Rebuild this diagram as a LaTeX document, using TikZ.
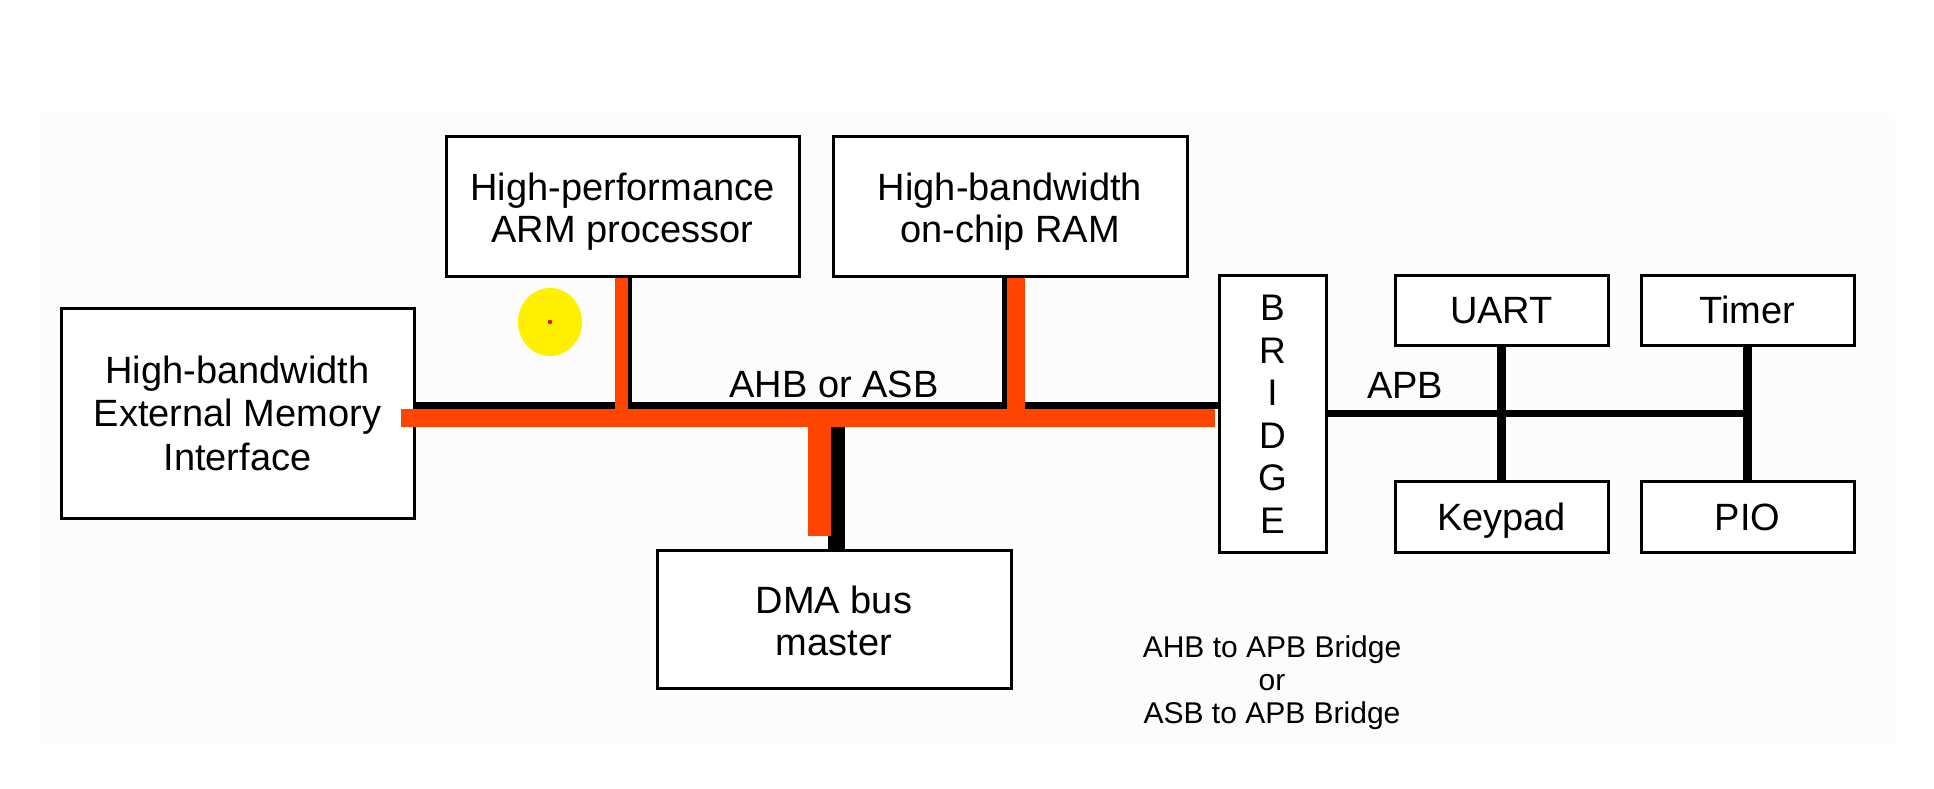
\documentclass[tikz,border=0pt]{standalone}
\usepackage{fontspec}
\setmainfont{Liberation Sans}
\usetikzlibrary{calc}
\definecolor{busorange}{RGB}{255,69,0}
\definecolor{panel}{RGB}{252,252,252}
\definecolor{marker}{RGB}{255,240,0}
\tikzset{
  unit/.style={draw=black, line width=3pt, fill=white, align=center, inner sep=0pt,
    font=\fontsize{38}{43.5}\selectfont},
  oneline/.style={text height=27pt, text depth=0pt},
  twoline/.style={font=\fontsize{38}{42}\selectfont, text height=80pt, text depth=8pt},
  ahbline/.style={draw=black, line cap=butt},
  ahbfat/.style={draw=busorange, line cap=butt},
  apbline/.style={draw=black, line cap=butt},
  buslabel/.style={inner sep=0pt, anchor=base, font=\fontsize{38}{43.5}\selectfont},
  note/.style={inner sep=0pt, align=center, font=\fontsize{30}{33}\selectfont},
}
\begin{document}
\begin{tikzpicture}[x=1pt, y=-1pt]
  \useasboundingbox (0,0) rectangle (1934,789);
  \fill[white] (0,0) rectangle (1934,789);
  \fill[panel] (40,113) rectangle (1895,745);

  % high-speed system bus components
  \node[unit, minimum width=353pt, minimum height=210pt] (emi) at (237.5,413)
    {High-bandwidth\\External Memory\\Interface};
  \node[unit, twoline, minimum width=353pt, minimum height=140pt] (arm) at (622.5,206)
    {High-performance\\ARM processor};
  \node[unit, twoline, minimum width=354pt, minimum height=140pt] (ram) at (1010,206)
    {High-bandwidth\\on-chip RAM};
  \node[unit, twoline, minimum width=354pt, minimum height=138pt] (dma) at (834,619)
    {DMA bus\\master};
  \node[unit, minimum width=107pt, minimum height=277pt,
        font=\fontsize{37}{42.5}\selectfont, text height=239pt, text depth=0pt]
        (bridge) at (1272.5,413.5)
    {B\\R\\I\\D\\G\\E};

  % peripheral bus components
  \node[unit, oneline, minimum width=213pt, minimum height=70pt] (uart) at (1501.5,310) {UART};
  \node[unit, oneline, minimum width=213pt, minimum height=70pt] (timer) at (1747.5,310) {Timer};
  \node[unit, oneline, minimum width=213pt, minimum height=71pt] (keypad) at (1501.5,516.5) {Keypad};
  \node[unit, oneline, minimum width=213pt, minimum height=71pt] (pio) at (1747.5,516.5) {PIO};

  % bus levels
  \coordinate (ahb) at (0,405.5);
  \coordinate (ahbo) at (0,418);
  \coordinate (apb) at (0,413.5);

  % AHB / ASB backbone
  \draw[ahbline, line width=7pt] (emi.east |- ahb) -- (bridge.west |- ahb);
  \draw[ahbline, line width=4pt] ($(arm.south)+(7.5,0)$) -- ($(arm.south |- ahb)+(7.5,0)$);
  \draw[ahbline, line width=5pt] ($(ram.south)+(-5.5,0)$) -- ($(ram.south |- ahb)+(-5.5,0)$);
  \draw[ahbline, line width=17pt] ($(dma.north |- ahbo)+(2.5,0)$) -- ($(dma.north)+(2.5,0)$);

  \draw[ahbfat, line width=18pt] ($(emi.east |- ahbo)+(-15,0)$) -- ($(bridge.west |- ahbo)+(-3,0)$);
  \draw[ahbfat, line width=13pt] ($(arm.south)+(-1,0)$) -- ($(arm.south |- ahbo)+(-1,0)$);
  \draw[ahbfat, line width=18pt] ($(ram.south)+(6,0)$) -- ($(ram.south |- ahbo)+(6,0)$);
  \draw[ahbfat, line width=23pt] ($(dma.north |- ahbo)+(-14.5,0)$) -- ($(dma.north)+(-14.5,-13)$);

  % APB
  \draw[apbline, line width=7pt] (bridge.east |- apb) -- (timer.south |- apb);
  \draw[apbline, line width=9pt] (uart.south) -- (keypad.north);
  \draw[apbline, line width=9pt] (timer.south) -- (pio.north);

  % labels
  \node[buslabel] (ahblabel) at (834,397) {AHB or ASB};
  \node[buslabel] (apblabel) at (1405,398) {APB};
  \node[note] (bridgenote) at (1272,683)
    {AHB to APB Bridge\\or\\ASB to APB Bridge};

  % pointer highlight
  \fill[marker] (550,322) ellipse [x radius=32, y radius=34];
  \fill[red] (550,322) circle [radius=2.2];
\end{tikzpicture}
\end{document}
